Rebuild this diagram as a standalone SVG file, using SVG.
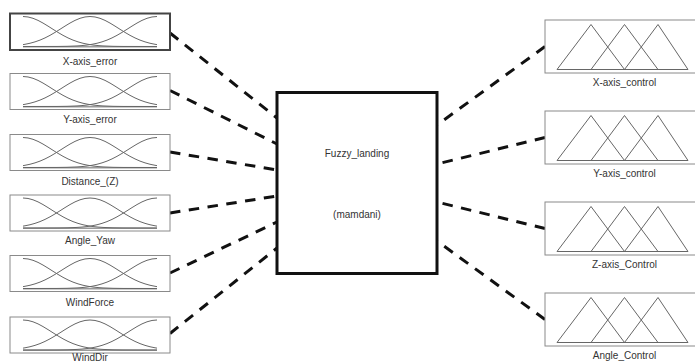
<svg xmlns="http://www.w3.org/2000/svg" xmlns:xlink="http://www.w3.org/1999/xlink" width="695" height="361" viewBox="0 0 695 361">
<style>
  .lbl { font-family: "Liberation Sans", Arial, sans-serif; font-size: 10px; fill: #333; text-anchor: middle; }
  .inbox { fill: #fff; stroke: #8a8a8a; stroke-width: 1; }
  .sel { stroke: #444; stroke-width: 2; }
  .outbox { fill: #fff; stroke: #8a8a8a; stroke-width: 1; }
  .mf { fill: none; stroke: #666; stroke-width: 1; stroke-linejoin: round; }
  .base { fill: none; stroke: #999; stroke-width: 1.5; }
  .conn { fill: none; stroke: #111; stroke-width: 3; stroke-dasharray: 10.5 8.5; }
  .core { fill: #fff; stroke: #111; stroke-width: 3; }
</style>
<defs>
  <g id="gauss">
    <path class="base" d="M13,33.3 H147"/>
    <path class="mf" d="M13,31.13 L15,30.79 L20,29.76 L25,28.37 L30,26.6 L35,24.41 L40,21.83 L45,18.92 L50,15.79 L55,12.6 L60,9.57 L65,6.89 L70,4.8 L75,3.46 L80,3 L85,3.46 L90,4.8 L95,6.89 L100,9.57 L105,12.6 L110,15.79 L115,18.92 L120,21.83 L125,24.41 L130,26.6 L135,28.37 L140,29.76 L145,30.79 L147,31.13"/>
    <path class="mf" d="M13,3 L18,3.46 L23,4.8 L28,6.89 L33,9.57 L38,12.6 L43,15.79 L48,18.92 L53,21.83 L58,24.41 L63,26.6 L68,28.37 L73,29.76 L78,30.79 L83,31.55 L88,32.07 L93,32.43 L103,32.8 L113,32.94 L147,33"/>
    <path class="mf" d="M147,3 L142,3.46 L137,4.8 L132,6.89 L127,9.57 L122,12.6 L117,15.79 L112,18.92 L107,21.83 L102,24.41 L97,26.6 L92,28.37 L87,29.76 L82,30.79 L77,31.55 L72,32.07 L67,32.43 L57,32.8 L47,32.94 L13,33"/>
  </g>
  <g id="tri">
    <path class="mf" d="M12,49.5 H143"/>
    <path class="mf" d="M12,49.5 L46,4.5 L79.5,49.5"/>
    <path class="mf" d="M46,49.5 L79.5,4.5 L113,49.5"/>
    <path class="mf" d="M79.5,49.5 L113,4.5 L143,49.5"/>
  </g>
</defs>

<g id="connectors">
  <path class="conn" d="M170,33 L277,118"/>
  <path class="conn" d="M170,90.5 L277,144"/>
  <path class="conn" d="M170,152 L277,170"/>
  <path class="conn" d="M170,213 L277,196"/>
  <path class="conn" d="M170,273 L277,222"/>
  <path class="conn" d="M170,333.5 L277,248"/>
  <path class="conn" d="M545,46.5 L437,125"/>
  <path class="conn" d="M545,137.5 L437,164"/>
  <path class="conn" d="M545,228.5 L437,202"/>
  <path class="conn" d="M545,319.5 L437,241"/>
</g>

<g id="in-x-axis-error">
  <rect class="inbox sel" x="10" y="13.5" width="160" height="36.5"/>
  <use xlink:href="#gauss" x="10" y="13.5"/>
  <text class="lbl" x="90" y="65">X-axis_error</text>
</g>
<g id="in-y-axis-error">
  <rect class="inbox" x="10" y="73.5" width="160" height="36"/>
  <use xlink:href="#gauss" x="10" y="73.5"/>
  <text class="lbl" x="90" y="122.5">Y-axis_error</text>
</g>
<g id="in-distance-z">
  <rect class="inbox" x="10" y="134.5" width="160" height="36"/>
  <use xlink:href="#gauss" x="10" y="134.5"/>
  <text class="lbl" x="90" y="185">Distance_(Z)</text>
</g>
<g id="in-angle-yaw">
  <rect class="inbox" x="10" y="195" width="160" height="36"/>
  <use xlink:href="#gauss" x="10" y="195"/>
  <text class="lbl" x="90" y="243.5">Angle_Yaw</text>
</g>
<g id="in-windforce">
  <rect class="inbox" x="10" y="255.5" width="160" height="36"/>
  <use xlink:href="#gauss" x="10" y="255.5"/>
  <text class="lbl" x="90" y="305.5">WindForce</text>
</g>
<g id="in-winddir">
  <rect class="inbox" x="10" y="317" width="160" height="36"/>
  <use xlink:href="#gauss" x="10" y="317"/>
  <text class="lbl" x="90" y="360.5">WindDir</text>
</g>

<g id="fis-core">
  <rect class="core" x="277" y="92.5" width="160" height="181"/>
  <text class="lbl" x="357" y="157">Fuzzy_landing</text>
  <text class="lbl" x="357" y="218">(mamdani)</text>
</g>

<g id="out-x-axis-control">
  <rect class="outbox" x="545" y="20" width="152" height="53"/>
  <use xlink:href="#tri" x="545" y="20"/>
  <text class="lbl" x="624.5" y="86">X-axis_control</text>
</g>
<g id="out-y-axis-control">
  <rect class="outbox" x="545" y="111" width="152" height="53"/>
  <use xlink:href="#tri" x="545" y="111"/>
  <text class="lbl" x="624.5" y="177">Y-axis_control</text>
</g>
<g id="out-z-axis-control">
  <rect class="outbox" x="545" y="202" width="152" height="53"/>
  <use xlink:href="#tri" x="545" y="202"/>
  <text class="lbl" x="624.5" y="268">Z-axis_Control</text>
</g>
<g id="out-angle-control">
  <rect class="outbox" x="545" y="293" width="152" height="53"/>
  <use xlink:href="#tri" x="545" y="293"/>
  <text class="lbl" x="624.5" y="359">Angle_Control</text>
</g>
</svg>
